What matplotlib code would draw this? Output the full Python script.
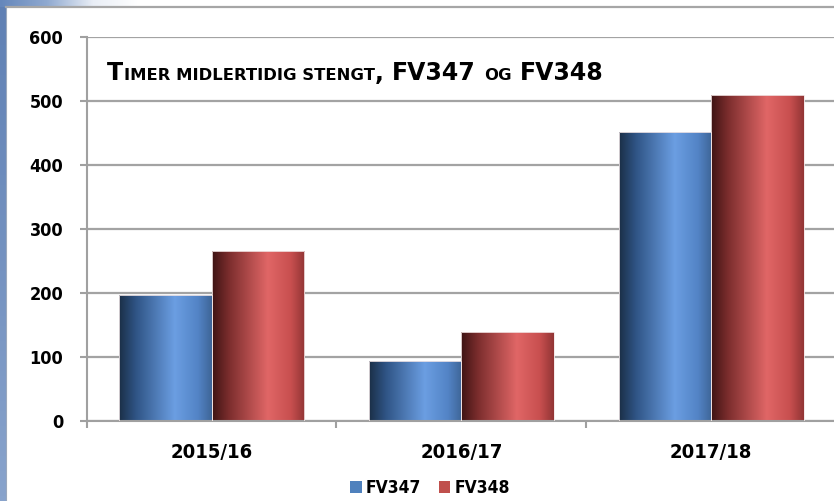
import numpy as np
import matplotlib
matplotlib.use("Agg")
import matplotlib.pyplot as plt
from matplotlib.colors import LinearSegmentedColormap
from matplotlib.patches import Patch

categories = ["2015/16", "2016/17", "2017/18"]
fv347 = [196, 93, 451]
fv348 = [265, 138, 509]
series_names = ["FV347", "FV348"]
yticks = [0, 100, 200, 300, 400, 500, 600]

W, H = 834, 501
fig = plt.figure(figsize=(W / 100, H / 100), dpi=100)
fig.patch.set_facecolor("white")

FAM = "DejaVu Sans"
STR = "condensed"

# ---- background decoration (slide frame) ----
bg = fig.add_axes([0, 0, 1, 1], zorder=-10)
bg.axis("off")
left_cmap = LinearSegmentedColormap.from_list("lb", ["#5f80b4", "#88a3cc"])
bg.imshow(np.linspace(0, 1, 100)[:, None], cmap=left_cmap, extent=(0, 6.5, H, 0), aspect="auto")
top_cmap = LinearSegmentedColormap.from_list("tb", ["#6587bb", "#8fa9d0", "#e9eef6", "#ffffff"])
bg.imshow(np.linspace(0, 1, 200)[None, :], cmap=top_cmap, extent=(0, 140, 7, 0), aspect="auto")
bg.plot([6.5, W], [7, 7], color="#a6a6a6", lw=1.6)
bg.plot([6.5, 6.5], [7, H], color="#9aa8bd", lw=0.8)
bg.set_xlim(0, W)
bg.set_ylim(H, 0)

# ---- main axes ----
ax_left = 86.7 / W
ax_right = 836.0 / W
ax_bottom = (H - 420.7) / H
ax_top = (H - 36.7) / H
ax = fig.add_axes([ax_left, ax_bottom, ax_right - ax_left, ax_top - ax_bottom])
ax.set_facecolor("none")

for s in ["top", "right"]:
    ax.spines[s].set_visible(False)
for s in ["left", "bottom"]:
    ax.spines[s].set_color("#a0a0a0")
    ax.spines[s].set_linewidth(1.5)

ax.set_yticks(yticks)
ax.set_yticklabels([str(v) for v in yticks])
ax.yaxis.grid(True, color="#a3a3a3", lw=1.6)
ax.set_axisbelow(True)

x = np.arange(len(categories))
ax.set_xticks(x)
ax.set_xticklabels(categories)
ax.set_xticks([-0.5, 0.5, 1.5, 2.5], minor=True)
ax.tick_params(axis="x", which="major", length=0, pad=16)
ax.tick_params(axis="x", which="minor", length=5, width=1.5, color="#a0a0a0")
ax.tick_params(axis="y", length=5, width=1.5, color="#a0a0a0", pad=12)
for lab in ax.get_yticklabels():
    lab.set_fontfamily(FAM)
    lab.set_fontstretch(STR)
    lab.set_fontweight("bold")
    lab.set_fontsize(13)
for lab in ax.get_xticklabels():
    lab.set_fontfamily(FAM)
    lab.set_fontstretch(STR)
    lab.set_fontweight("bold")
    lab.set_fontsize(14.5)

bw = 0.37
blue_cmap = LinearSegmentedColormap.from_list(
    "bl", [(0, "#1b2f47"), (0.18, "#2f5485"), (0.6, "#6b9ee2"), (0.85, "#5384c6"), (1, "#3e6597")])
red_cmap = LinearSegmentedColormap.from_list(
    "rd", [(0, "#3e1414"), (0.18, "#7b2d2d"), (0.6, "#e06666"), (0.85, "#c84f4f"), (1, "#923535")])
grad = np.linspace(0, 1, 256)[None, :]

bars1 = ax.bar(x - bw / 2, fv347, bw, color="none", edgecolor="none")
bars2 = ax.bar(x + bw / 2, fv348, bw, color="none", edgecolor="none")
for bars, cm in ((bars1, blue_cmap), (bars2, red_cmap)):
    for b in bars:
        x0, y0 = b.get_x(), b.get_y()
        ax.imshow(grad, cmap=cm, extent=(x0, x0 + b.get_width(), y0, y0 + b.get_height()),
                  aspect="auto", zorder=2, interpolation="bilinear")
        ax.add_patch(plt.Rectangle((x0, y0), b.get_width(), b.get_height(), fill=False,
                                   edgecolor="#f2e6e6", lw=0.6, zorder=3))
ax.set_xlim(-0.5, 2.5)
ax.set_ylim(0, 600)

# ---- title in small caps ----
renderer = fig.canvas.get_renderer()
big, small = 17, 11.8
pieces = [("T", big), ("IMER MIDLERTIDIG STENGT", small), (",", big), (" ", big),
          ("FV347", big), (" ", big), ("OG", small), (" ", big), ("FV348", big)]
xpx = 107.0
ybase = (H - 80.0) / H
for txt, sz in pieces:
    if txt == " ":
        xpx += sz * 100 / 72 * 0.32
        continue
    t = fig.text(xpx / W, ybase, txt, fontsize=sz, fontweight="bold", family=FAM,
                 va="baseline", ha="left", color="black")
    bb = t.get_window_extent(renderer)
    xpx += bb.width + 0.5

# ---- legend ----
handles = [Patch(facecolor="#4f81bd"), Patch(facecolor="#c0504d")]
leg = fig.legend(handles, series_names, loc="center", bbox_to_anchor=(430 / W, (H - 488) / H),
                 ncol=2, frameon=False, handlelength=0.68, handleheight=0.68, handletextpad=0.25,
                 columnspacing=1.0, prop=dict(family=FAM, weight="bold", size=12.5, stretch=STR))

fig.savefig("out.png", dpi=100)
